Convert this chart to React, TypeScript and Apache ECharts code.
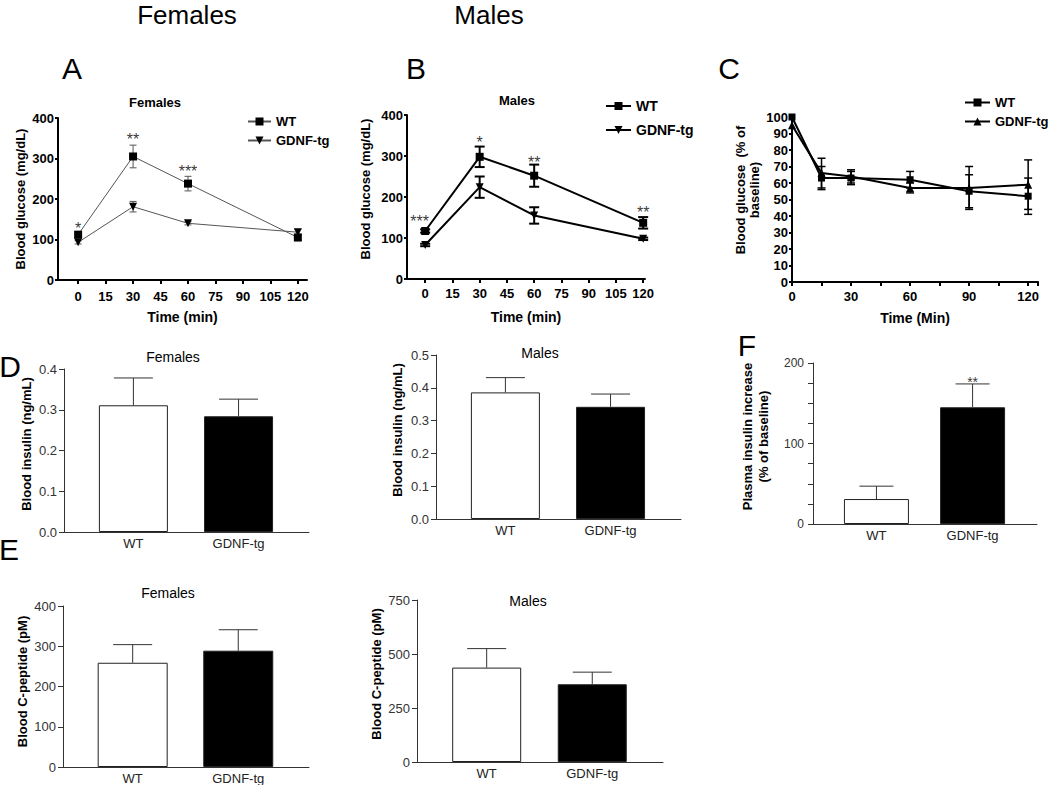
import React, { useEffect, useRef } from 'react';
import * as echarts from 'echarts';

// ---------------- data ----------------
const glucoseTimes = [0, 30, 60, 120];
const timeTicks = [0, 15, 30, 45, 60, 75, 90, 105, 120];

// A – females GTT
const femWT = [112, 305, 238, 105];
const femWTErr = [6, 28, 18, 8];
const femTG = [93, 181, 140, 118];
const femTGErr = [4, 13, 4, 7];
const femStarX = [0, 30, 60];
const femStarY = [126, 348, 267];
const femStarText = ['*', '**', '***'];

// B – males GTT
const maleWT = [117, 298, 252, 137];
const maleWTErr = [4, 25, 27, 14];
const maleTG = [83, 224, 155, 98];
const maleTGErr = [3, 26, 20, 3];
const maleStarX = [-3, 30, 60, 120];
const maleStarY = [141, 334, 285, 163];
const maleStarText = ['***', '*', '**', '**'];

// C – ITT (% of baseline)
const ittTimes = [0, 15, 30, 60, 90, 120];
const ittWT = [100, 63, 63, 62, 55, 52];
const ittWTErr = [0, 7, 4, 5, 10, 11];
const ittTG = [95, 66, 64, 57, 57, 59];
const ittTGErr = [0, 9, 4, 3, 13, 15];

// D, E, F – bars
const groups = ['WT', 'GDNF-tg'];
const insulinFem = [0.311, 0.284];
const insulinFemErr = [0.067, 0.042];
const insulinMale = [0.386, 0.342];
const insulinMaleErr = [0.045, 0.039];
const insulinIncrease = [31, 145];
const insulinIncreaseErr = [16, 29];
const incStarX = [1];
const incStarY = [177];
const incStarText = ['**'];
const cpepFem = [259, 289];
const cpepFemErr = [45, 52];
const cpepMale = [437, 360];
const cpepMaleErr = [88, 56];

// ---------------- helpers ----------------
const FONT = '"Liberation Sans", Arial, Helvetica, sans-serif';
const boldText = { fontFamily: FONT, fontWeight: 'bold' as const, fontSize: 13, color: '#000' };
const grayText = { fontFamily: FONT, fontWeight: 'normal' as const, fontSize: 13, color: '#333' };

const pts = (xs: number[], ys: number[]) => xs.map((x, i) => [x, ys[i]]);
const errs = (xs: number[], ys: number[], es: number[]) =>
  xs.map((x, i) => [x, ys[i] - es[i], ys[i] + es[i], es[i]]).filter((d) => d[3] > 0);
const upErrs = (ys: number[], es: number[]) => ys.map((y, i) => [i, y, y + es[i]]);

function errorSeries(gi: number, data: number[][], color: string, width: number, capHalf: number, upOnly: boolean) {
  return {
    type: 'custom',
    xAxisIndex: gi,
    yAxisIndex: gi,
    z: upOnly ? 4 : 2,
    silent: true,
    color,
    encode: { x: 0, y: [1, 2] },
    itemStyle: { color },
    data,
    renderItem: (_p: any, api: any) => {
      const x = api.value(0);
      const lo = api.value(1);
      const hi = api.value(2);
      const a = api.coord([x, hi]);
      const b = api.coord([x, lo]);
      const st = { stroke: color, lineWidth: width };
      const ch: any[] = [
        { type: 'line', shape: { x1: a[0], y1: a[1], x2: b[0], y2: b[1] }, style: st },
        { type: 'line', shape: { x1: a[0] - capHalf, y1: a[1], x2: a[0] + capHalf, y2: a[1] }, style: st },
      ];
      if (!upOnly) ch.push({ type: 'line', shape: { x1: b[0] - capHalf, y1: b[1], x2: b[0] + capHalf, y2: b[1] }, style: st });
      return { type: 'group', children: ch };
    },
  };
}

function starSeries(gi: number, xs: number[], ys: number[], texts: string[], fontSize: number) {
  return {
    type: 'scatter',
    xAxisIndex: gi,
    yAxisIndex: gi,
    z: 6,
    silent: true,
    symbol: 'circle',
    symbolSize: 1,
    clip: false,
    itemStyle: { color: 'rgba(0,0,0,0)' },
    data: pts(xs, ys),
    label: {
      show: true,
      position: 'inside',
      formatter: (p: any) => texts[p.dataIndex],
      color: '#000',
      fontSize,
      fontFamily: FONT,
      fontWeight: 'normal',
    },
  };
}

function lineSeries(name: string, gi: number, data: number[][], color: string, width: number, symbol: string, rotate: number, size: number) {
  return {
    type: 'line',
    name,
    xAxisIndex: gi,
    yAxisIndex: gi,
    data,
    symbol,
    symbolSize: size,
    symbolRotate: rotate,
    showAllSymbol: true,
    clip: false,
    z: 3,
    silent: true,
    lineStyle: { color, width },
    itemStyle: { color: '#000' },
  };
}

function barSeries(gi: number, values: number[], barWidth: number) {
  return {
    type: 'bar',
    xAxisIndex: gi,
    yAxisIndex: gi,
    barWidth,
    z: 2,
    silent: true,
    data: values.map((v, i) => ({
      value: [i, v],
      itemStyle: { color: i === 0 ? '#ffffff' : '#000000', borderColor: '#222', borderWidth: 1 },
    })),
  };
}

function glucoseX(gi: number, min: number, max: number, margin: number, gap: number, name: string, ticks: number[] | null, interval?: number) {
  const ax: any = {
    type: 'value',
    gridIndex: gi,
    min,
    max,
    axisLine: { show: true, onZero: false, lineStyle: { color: '#000', width: 2 } },
    axisTick: { show: true, length: 4, lineStyle: { color: '#000', width: 2 } },
    axisLabel: { margin, ...boldText },
    splitLine: { show: false },
    name,
    nameLocation: 'middle',
    nameGap: gap,
    nameTextStyle: { ...boldText, fontSize: 14 },
  };
  if (ticks) {
    ax.axisTick.customValues = ticks;
    ax.axisLabel.customValues = ticks;
  } else {
    ax.interval = interval;
    ax.minorTick = { show: true, splitNumber: 2, length: 4, lineStyle: { color: '#000', width: 2 } };
  }
  return ax;
}

function glucoseY(gi: number, max: number, interval: number, name: string, gap: number, shift: number, lineHeight?: number) {
  return {
    type: 'value',
    gridIndex: gi,
    min: 0,
    max,
    interval,
    axisLine: { show: true, onZero: false, lineStyle: { color: '#000', width: 2 } },
    axisTick: { show: true, length: 3, lineStyle: { color: '#000', width: 2 } },
    axisLabel: { margin: 4, ...boldText },
    splitLine: { show: false },
    name,
    nameLocation: 'middle',
    nameGap: gap,
    nameTextStyle: { ...boldText, fontSize: 13, lineHeight: lineHeight || 15, padding: [0, 0, 0, shift] },
  };
}

function barX(gi: number) {
  return {
    type: 'value',
    gridIndex: gi,
    min: -0.66,
    max: 1.67,
    axisLine: { show: true, onZero: false, lineStyle: { color: '#333', width: 1 } },
    axisTick: { show: false },
    axisLabel: { customValues: [0, 1], formatter: (v: number) => groups[Math.round(v)], margin: 5, ...grayText, color: '#222' },
    splitLine: { show: false },
  };
}

function barY(gi: number, max: number, interval: number, name: string, gap: number, shift: number, digits: number, extra?: any) {
  return {
    type: 'value',
    gridIndex: gi,
    min: 0,
    max,
    interval,
    axisLine: { show: true, onZero: false, lineStyle: { color: '#333', width: 1 } },
    axisTick: { show: true, length: 5, lineStyle: { color: '#333', width: 1 } },
    axisLabel: { margin: 7, ...grayText, formatter: (v: number) => v.toFixed(digits) },
    splitLine: { show: false },
    name,
    nameLocation: 'middle',
    nameGap: gap,
    nameTextStyle: { ...boldText, fontSize: 13, lineHeight: 16, padding: [0, 0, 0, shift] },
    ...(extra || {}),
  };
}

function txt(text: string, x: number, y: number, fontSize: number, weight: string = 'normal') {
  return {
    type: 'text',
    x,
    y,
    silent: true,
    style: { text, fontSize, fontFamily: FONT, fontWeight: weight, fill: '#000', align: 'center', verticalAlign: 'middle' },
  };
}

const legendFmt = (n: string) => n.replace(/_.*$/, '');

function buildOption(): any {
  const grids = [
    { left: 58, top: 118, width: 249, height: 162 }, // 0 A
    { left: 407, top: 115, width: 238, height: 164 }, // 1 B
    { left: 792, top: 117, width: 246, height: 165 }, // 2 C
    { left: 64, top: 369, width: 245, height: 163 }, // 3 D fem
    { left: 436, top: 355, width: 245, height: 164 }, // 4 D male
    { left: 813, top: 363, width: 224, height: 161 }, // 5 F
    { left: 63, top: 606, width: 246, height: 163 }, // 6 E fem
    { left: 417, top: 600, width: 246, height: 162 }, // 7 E male
  ];

  const xAxis = [
    glucoseX(0, -11, 125, 10, 30, 'Time (min)', timeTicks),
    glucoseX(1, -10, 121, 8, 31, 'Time (min)', timeTicks),
    glucoseX(2, 0, 125, 8, 29, 'Time (Min)', null, 30),
    barX(3),
    barX(4),
    barX(5),
    barX(6),
    barX(7),
  ];

  const yAxis = [
    glucoseY(0, 400, 100, 'Blood glucose (mg/dL)', 26, 0),
    glucoseY(1, 400, 100, 'Blood glucose (mg/dL)', 34, 16),
    glucoseY(2, 100, 10, 'Blood glucose  (% of\nbaseline)', 31, 19, 14),
    barY(3, 0.4, 0.1, 'Blood insulin (ng/mL)', 30, 13, 1),
    barY(4, 0.5, 0.1, 'Blood insulin (ng/mL)', 31, 14, 1),
    barY(5, 200, 100, 'Plasma insulin increase\n(% of baseline)', 42, 14, 0, {
      minorTick: { show: true, splitNumber: 4, length: 5, lineStyle: { color: '#333', width: 1 } },
      axisLabel: { margin: 9, ...grayText, fontSize: 12 },
    }),
    barY(6, 400, 100, 'Blood C-peptide (pM)', 30, 10, 0),
    barY(7, 750, 250, 'Blood C-peptide (pM)', 30, 14, 0),
  ];

  const series: any[] = [
    // A
    errorSeries(0, errs(glucoseTimes, femWT, femWTErr), '#555', 1, 3.5, false),
    errorSeries(0, errs(glucoseTimes, femTG, femTGErr), '#555', 1, 3.5, false),
    lineSeries('WT_A', 0, pts(glucoseTimes, femWT), '#555', 1, 'rect', 0, 8),
    lineSeries('GDNF-tg_A', 0, pts(glucoseTimes, femTG), '#555', 1, 'triangle', 180, 8),
    starSeries(0, femStarX, femStarY, femStarText, 16),
    // B
    errorSeries(1, errs(glucoseTimes, maleWT, maleWTErr), '#000', 2, 5, false),
    errorSeries(1, errs(glucoseTimes, maleTG, maleTGErr), '#000', 2, 5, false),
    lineSeries('WT_B', 1, pts(glucoseTimes, maleWT), '#000', 2, 'rect', 0, 8),
    lineSeries('GDNF-tg_B', 1, pts(glucoseTimes, maleTG), '#000', 2, 'triangle', 180, 8),
    starSeries(1, maleStarX, maleStarY, maleStarText, 16),
    // C
    errorSeries(2, errs(ittTimes, ittWT, ittWTErr), '#000', 1.5, 4, false),
    errorSeries(2, errs(ittTimes, ittTG, ittTGErr), '#000', 1.5, 4, false),
    lineSeries('WT_C', 2, pts(ittTimes, ittWT), '#000', 2, 'rect', 0, 7),
    lineSeries('GDNF-tg_C', 2, pts(ittTimes, ittTG), '#000', 2, 'triangle', 0, 8),
    // D females
    barSeries(3, insulinFem, 69),
    errorSeries(3, upErrs(insulinFem, insulinFemErr), '#333', 1, 19.5, true),
    // D males
    barSeries(4, insulinMale, 69),
    errorSeries(4, upErrs(insulinMale, insulinMaleErr), '#333', 1, 19.5, true),
    // F
    barSeries(5, insulinIncrease, 65),
    errorSeries(5, upErrs(insulinIncrease, insulinIncreaseErr), '#333', 1, 17, true),
    starSeries(5, incStarX, incStarY, incStarText, 14),
    // E females
    barSeries(6, cpepFem, 70),
    errorSeries(6, upErrs(cpepFem, cpepFemErr), '#333', 1, 19.5, true),
    // E males
    barSeries(7, cpepMale, 69),
    errorSeries(7, upErrs(cpepMale, cpepMaleErr), '#333', 1, 19.5, true),
  ];

  const legendBase = {
    orient: 'vertical',
    padding: 0,
    selectedMode: false,
    formatter: legendFmt,
    itemHeight: 10,
  };

  const legend = [
    { ...legendBase, data: ['WT_A', 'GDNF-tg_A'], left: 247, top: 115, itemWidth: 23, itemGap: 6, textStyle: { ...boldText, fontSize: 13 } },
    { ...legendBase, data: ['WT_B', 'GDNF-tg_B'], left: 605, top: 99, itemWidth: 25, itemGap: 10, textStyle: { ...boldText, fontSize: 14 } },
    { ...legendBase, data: ['WT_C', 'GDNF-tg_C'], left: 964, top: 96, itemWidth: 25, itemGap: 6, textStyle: { ...boldText, fontSize: 13 } },
  ];

  const graphic = [
    txt('Females', 187, 15, 26),
    txt('Males', 489, 15, 26),
    txt('A', 72, 68, 30),
    txt('B', 416, 68, 30),
    txt('C', 729, 68, 30),
    txt('D', 10, 366, 30),
    txt('E', 9, 549, 30),
    txt('F', 747, 345, 30),
    txt('Females', 155, 102, 13, 'bold'),
    txt('Males', 517, 100, 13, 'bold'),
    txt('Females', 173, 357, 14),
    txt('Males', 540, 353, 14),
    txt('Females', 168, 593, 14),
    txt('Males', 528, 601, 14),
  ];

  return {
    animation: false,
    backgroundColor: '#ffffff',
    grid: grids,
    xAxis,
    yAxis,
    series,
    legend,
    graphic,
  };
}

export default function App() {
  const ref = useRef<HTMLDivElement>(null);
  useEffect(() => {
    if (!ref.current) return;
    const chart = echarts.init(ref.current, null, { renderer: 'svg' });
    chart.setOption(buildOption());
    return () => chart.dispose();
  }, []);
  return (
    <div
      ref={ref}
      style={{ position: 'absolute', left: 0, top: 0, width: 1050, height: 785, background: '#fff' }}
    />
  );
}
